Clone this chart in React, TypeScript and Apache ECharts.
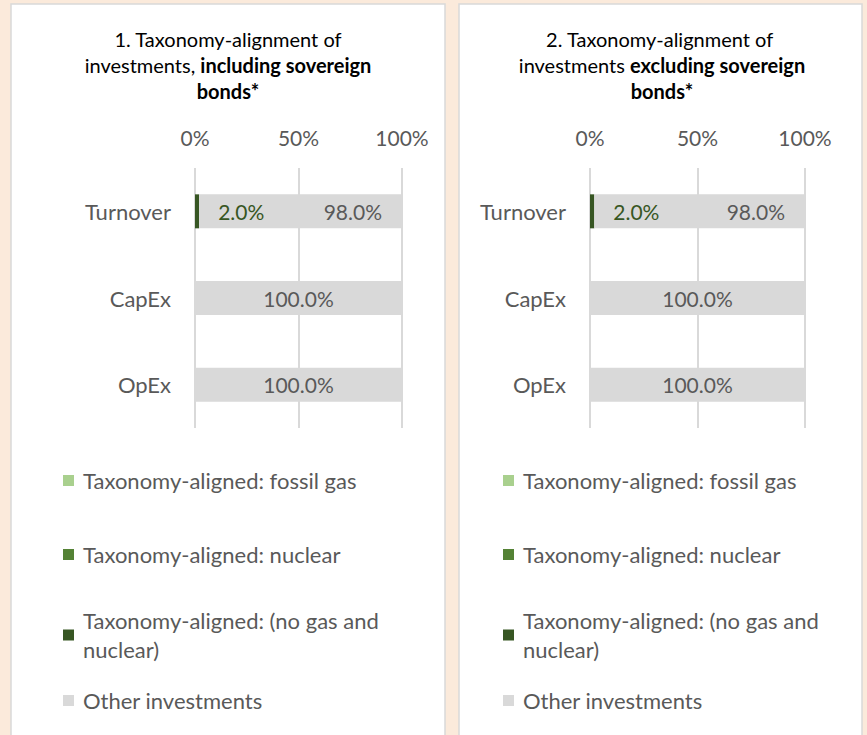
import React, { useEffect, useRef } from "react";
import * as echarts from "echarts";

const categories = ["Turnover", "CapEx", "OpEx"];
const seriesNames = [
  "Taxonomy-aligned: fossil gas",
  "Taxonomy-aligned: nuclear",
  "Taxonomy-aligned: (no gas and nuclear)",
  "Other investments",
];
const seriesColors = ["#A9D08E", "#548235", "#375623", "#D9D9D9"];
// chart 1: including sovereign bonds
const incFossilGas = [0, 0, 0];
const incNuclear = [0, 0, 0];
const incAligned = [2.0, 0, 0];
const incOther = [98.0, 100.0, 100.0];
// chart 2: excluding sovereign bonds
const excFossilGas = [0, 0, 0];
const excNuclear = [0, 0, 0];
const excAligned = [2.0, 0, 0];
const excOther = [98.0, 100.0, 100.0];
const axisTicks = [0, 50, 100];

const FONT = "Lato";
const GREY = "#595959";

export default function App() {
  const ref = useRef<HTMLDivElement>(null);
  useEffect(() => {
    const chart = echarts.init(ref.current!, undefined, { renderer: "svg" });
    const fmt = (p: any) => {
      const v = p.value;
      return v > 0 ? Number(v).toFixed(1) + "%" : "";
    };
    const mkSeries = (gi: number, sets: number[][]) =>
      sets.map((vals, si) => ({
        name: seriesNames[si],
        type: "bar",
        stack: "s" + gi,
        xAxisIndex: gi,
        yAxisIndex: gi,
        barWidth: 34,
        itemStyle: { color: seriesColors[si] },
        data:
          si === 3
            ? vals.map((v) => ({
                value: v,
                label: { position: v < 100 ? "insideRight" : "inside", distance: 20 },
              }))
            : vals,
        label: {
          show: true,
          position: si === 2 ? "right" : "inside",
          distance: 19,
          formatter: fmt,
          color: si === 2 ? "#375623" : GREY,
          fontSize: 21,
          fontFamily: FONT,
        },
      }));
    const gridDefs = [
      { left: 195, width: 207 },
      { left: 590, width: 215 },
    ];
    const xAxes = gridDefs.map((_, i) => ({
      type: "value",
      gridIndex: i,
      min: axisTicks[0],
      max: axisTicks[axisTicks.length - 1],
      interval: axisTicks[1] - axisTicks[0],
      position: "top",
      axisLine: { show: false },
      axisTick: { show: false },
      axisLabel: { formatter: "{value}%", fontSize: 21, color: GREY, fontFamily: FONT, margin: 20 },
      splitLine: { show: true, lineStyle: { color: "#D9D9D9", width: 2 } },
    }));
    const yAxes = gridDefs.map((_, i) => ({
      type: "category",
      gridIndex: i,
      data: categories,
      inverse: true,
      axisLine: { show: false },
      axisTick: { show: false },
      axisLabel: { fontSize: 22, color: GREY, fontFamily: FONT, margin: 24 },
    }));
    const legendTops = [466, 540, 606, 686];
    const legends: any[] = [];
    [63, 503].forEach((lx) => {
      seriesNames.forEach((n, i) => {
        legends.push({
          left: lx,
          top: legendTops[i],
          padding: 0,
          orient: "vertical",
          data: [n],
          icon: "rect",
          itemWidth: 11,
          itemHeight: 11,
          selectedMode: false,
          formatter: (name: string) =>
            name === seriesNames[2] ? "Taxonomy-aligned: (no gas and\nnuclear)" : name,
          textStyle: {
            fontSize: 22,
            color: GREY,
            fontFamily: FONT,
            lineHeight: 29,
            padding: [0, 0, 0, 4],
          },
        });
      });
    });
    const titleRich = {
      n: { fontSize: 20, fontFamily: FONT, color: GREY, lineHeight: 26 },
      b: { fontSize: 20, fontFamily: FONT, color: GREY, lineHeight: 26, fontWeight: "bold" },
    };
    chart.setOption({
      animation: false,
      backgroundColor: "#FBEADB",
      graphic: [
        { type: "rect", shape: { x: 11, y: 4, width: 434, height: 740 }, style: { fill: "#FFFFFF", stroke: "#D9D9D9", lineWidth: 1.5 }, z: -10 },
        { type: "rect", shape: { x: 459, y: 4, width: 403, height: 740 }, style: { fill: "#FFFFFF", stroke: "#D9D9D9", lineWidth: 1.5 }, z: -10 },
        {
          type: "text",
          x: 228,
          y: 26,
          style: {
            text: "{n|1. Taxonomy-alignment of}\n{n|investments, }{b|including sovereign}\n{b|bonds*}",
            rich: titleRich,
            align: "center",
            verticalAlign: "top",
          },
        },
        {
          type: "text",
          x: 662,
          y: 26,
          style: {
            text: "{n|2. Taxonomy-alignment of }\n{n|investments }{b|excluding sovereign}\n{b|bonds*}",
            rich: titleRich,
            align: "center",
            verticalAlign: "top",
          },
        },
      ],
      grid: gridDefs.map((g) => ({ left: g.left, width: g.width, top: 168, height: 260 })),
      xAxis: xAxes,
      yAxis: yAxes,
      legend: legends,
      series: [
        ...mkSeries(0, [incFossilGas, incNuclear, incAligned, incOther]),
        ...mkSeries(1, [excFossilGas, excNuclear, excAligned, excOther]),
      ],
    });
    return () => chart.dispose();
  }, []);
  return (
    <div
      ref={ref}
      style={{ position: "fixed", left: 0, top: 0, width: 867, height: 735 }}
    />
  );
}
